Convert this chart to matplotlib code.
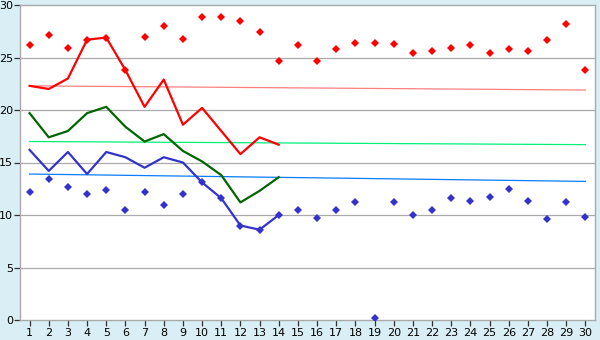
#!/usr/bin/env python3
# -*- coding: utf-8 -*-

import numpy as np
import matplotlib.pyplot as plt

# ---------------------------------------------------------------------
# DADES
# ---------------------------------------------------------------------

dies = list(range(1, 31))
dies_linia = list(range(1, 15))

# punts vermells (màximes)
max_punts = [26.2, 27.1, 25.9, 26.7, 26.9, 23.8, 27.0, 28.0, 26.8, 28.9,
             28.9, 28.5, 27.4, 24.7, 26.2, 24.7, 25.8, 26.4, 26.4, 26.3,
             25.4, 25.6, 25.9, 26.2, 25.4, 25.8, 25.6, 26.7, 28.2, 23.8]

# punts blaus (mínimes)
min_punts = [12.2, 13.4, 12.7, 12.0, 12.4, 10.5, 12.2, 11.0, 12.0, 13.1,
             11.6, 9.0, 8.6, 10.0, 10.5, 9.7, 10.5, 11.2, 0.15, 11.2,
             10.0, 10.5, 11.6, 11.3, 11.7, 12.5, 11.3, 9.6, 11.2, 9.8]

# línies gruixudes (dies 1-14)
linia_vermella = [22.3, 22.0, 23.0, 26.7, 26.9, 23.8, 20.3, 22.9, 18.6, 20.2,
                  18.0, 15.8, 17.4, 16.7]
linia_verda = [19.7, 17.4, 18.0, 19.7, 20.3, 18.4, 17.0, 17.7, 16.1, 15.1,
               13.8, 11.2, 12.3, 13.6]
linia_blava = [16.2, 14.2, 16.0, 13.9, 16.0, 15.5, 14.5, 15.5, 15.0, 13.1,
               11.6, 9.0, 8.6, 10.0]

# tendències (inici i final)
dies_tend = [1, 30]
tend_vermella = [22.3, 21.9]
tend_verda = [17.0, 16.7]
tend_blava = [13.9, 13.2]

# ---------------------------------------------------------------------
# GRÀFIC
# ---------------------------------------------------------------------

fons = "#D9EEF5"
fig = plt.figure(figsize=(6, 3.4), dpi=100, facecolor=fons)
ax = fig.add_axes([20 / 600, 20 / 340, 575 / 600, 315 / 340])
ax.set_facecolor("white")

# graella horitzontal
for v in range(5, 30, 5):
    ax.axhline(v, color="#AAAAAA", linewidth=0.9, zorder=0)

# tendències
ax.plot(dies_tend, tend_vermella, color="#FF7F7F", linewidth=0.9, zorder=2)
ax.plot(dies_tend, tend_verda, color="#00F07A", linewidth=0.9, zorder=2)
ax.plot(dies_tend, tend_blava, color="#0A7CFF", linewidth=0.9, zorder=2)

# línies gruixudes
ax.plot(dies_linia, linia_vermella, color="#FF0000", linewidth=1.6, zorder=3)
ax.plot(dies_linia, linia_verda, color="#006600", linewidth=1.6, zorder=3)
ax.plot(dies_linia, linia_blava, color="#3333CC", linewidth=1.6, zorder=3)

# punts
ax.plot(dies, max_punts, linestyle="none", marker="D", markersize=3.8,
        color="#FF0000", markeredgewidth=0, zorder=4)
ax.plot(dies, min_punts, linestyle="none", marker="D", markersize=3.8,
        color="#3333CC", markeredgewidth=0, zorder=4)

ax.set_xlim(0.5, 30.5)
ax.set_ylim(0, 30)
ax.set_xticks(dies)
ax.set_yticks(np.arange(0, 31, 5))

for s in ax.spines.values():
    s.set_color("#AAAAAA")
    s.set_linewidth(1.0)

ax.tick_params(axis="both", direction="out", length=4, width=0.9,
               color="#333333", labelsize=8, pad=2)
ax.tick_params(axis="y", pad=1)

fig.savefig("out.png", dpi=100, facecolor=fons)
